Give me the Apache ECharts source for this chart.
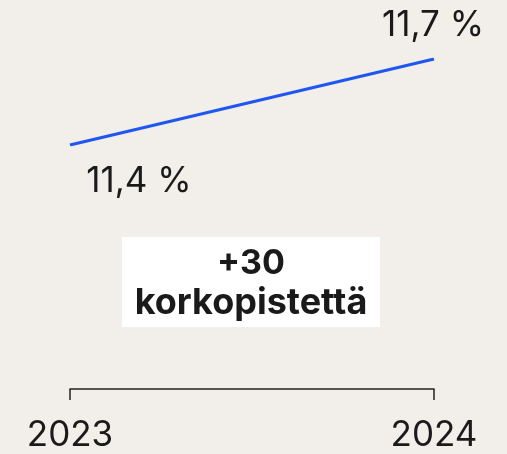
<!DOCTYPE html>
<html>
<head>
<meta charset="utf-8">
<script src="https://cdn.jsdelivr.net/npm/echarts@6/dist/echarts.min.js"></script>
<style>
  html, body { margin: 0; padding: 0; background: #f2eeea; }
  #chart { width: 507px; height: 454px; }
</style>
</head>
<body>
<div id="chart"></div>
<script>
'use strict';

var years = ['2023', '2024'];
var rates = [11.4, 11.7];
var rateLabels = ['11,4 %', '11,7 %'];
var changeText = ['+30', 'korkopistettä'];

(function () {
   var chart = echarts.init(document.getElementById('chart'));
   var font = 'Inter, Roboto, "Liberation Sans", Arial, sans-serif';

   // label offsets, first point below right, last point above
   var labelOffsets = [[69, 36], [-1, -34]];
   var points = rates.map(function (v, i) {
      return {
         value: v,
         label: { show: true, position: 'inside', offset: labelOffsets[i], formatter: rateLabels[i] }
      };
   });

   var option = {
      backgroundColor: '#f2eeea',
      animation: false,
      grid: { left: 70, right: 73, top: 59, bottom: 309 },
      xAxis: {
         type: 'category',
         data: years,
         boundaryGap: false,
         offset: 244,
         axisLine: { lineStyle: { color: '#222', width: 1.5 } },
         axisTick: { show: true, length: 11, lineStyle: { color: '#222', width: 1.5 } },
         axisLabel: { color: '#1a1a1a', fontSize: 35, fontFamily: font, margin: 29 },
         splitLine: { show: false }
      },
      yAxis: {
         type: 'value',
         min: 11.4,
         max: 11.7,
         show: false
      },
      series: [{
         type: 'line',
         data: points,
         symbol: 'circle',
         symbolSize: 0,
         lineStyle: { color: '#1f56f0', width: 3 },
         itemStyle: { color: '#1f56f0' },
         label: { color: '#1a1a1a', fontSize: 35, fontFamily: font }
      }],
      graphic: [{
         type: 'rect',
         shape: { x: 122, y: 237, width: 258, height: 90 },
         style: { fill: '#ffffff' }
      }, {
         type: 'text',
         x: 251,
         y: 283,
         style: {
            text: '{a|' + changeText[0] + '}\n{b|' + changeText[1] + '}',
            align: 'center',
            verticalAlign: 'middle',
            rich: {
               a: { fill: '#1a1a1a', fontSize: 34, fontWeight: 'bold', fontFamily: font, lineHeight: 40, align: 'center' },
               b: { fill: '#1a1a1a', fontSize: 36, fontWeight: 'bold', fontFamily: font, lineHeight: 38, align: 'center' }
            }
         }
      }]
   };

   chart.setOption(option);
})();
</script>
</body>
</html>
